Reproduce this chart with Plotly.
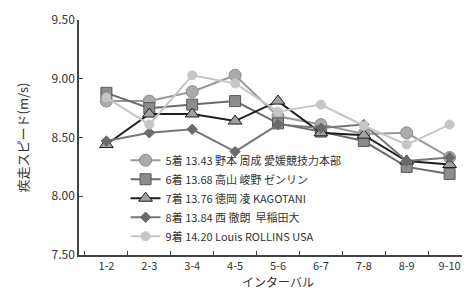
import plotly.graph_objects as go

categories = ["1-2", "2-3", "3-4", "4-5", "5-6", "6-7", "7-8", "8-9", "9-10"]

names = [
    "5着 13.43 野本 周成 愛媛競技力本部",
    "6着 13.68 高山 峻野 ゼンリン",
    "7着 13.76 徳岡 凌 KAGOTANI",
    "8着 13.84 西 徹朗  早稲田大",
    "9着 14.20 Louis ROLLINS USA",
]

s5 = [8.81, 8.81, 8.89, 9.03, 8.68, 8.61, 8.53, 8.54, 8.33]
s6 = [8.88, 8.75, 8.78, 8.81, 8.62, 8.55, 8.47, 8.25, 8.19]
s7 = [8.44, 8.70, 8.70, 8.64, 8.81, 8.54, 8.52, 8.30, 8.27]
s8 = [8.47, 8.54, 8.57, 8.38, 8.61, 8.58, 8.61, 8.30, 8.33]
s9 = [8.84, 8.61, 9.03, 8.96, 8.72, 8.78, 8.60, 8.44, 8.61]

y_ticks = [7.5, 8.0, 8.5, 9.0, 9.5]
y_tick_text = ["7.50", "8.00", "8.50", "9.00", "9.50"]

styles = [
    dict(line="#9a9a9a", fill="#ababab", edge="#8a8a8a", symbol="circle", size=12, width=2),
    dict(line="#6a6a6a", fill="#8c8c8c", edge="#5a5a5a", symbol="square", size=11, width=2),
    dict(line="#1e1e1e", fill="#a0a0a0", edge="#1e1e1e", symbol="triangle-up", size=12, width=2),
    dict(line="#777777", fill="#6a6a6a", edge="#6a6a6a", symbol="diamond", size=8, width=2),
    dict(line="#c6c6c6", fill="#c6c6c6", edge="#c6c6c6", symbol="circle", size=9, width=2),
]

series = [s5, s6, s7, s8, s9]

fig = go.Figure()
for name, vals, st in zip(names, series, styles):
    fig.add_trace(go.Scatter(
        x=categories, y=vals, name=name, mode="lines+markers",
        line=dict(color=st["line"], width=st["width"]),
        marker=dict(symbol=st["symbol"], size=st["size"], color=st["fill"],
                    line=dict(color=st["edge"], width=1)),
    ))

font_family = "Noto Sans CJK JP, Noto Sans, sans-serif"

fig.update_layout(
    width=470, height=296,
    margin=dict(l=71, r=1, t=12, b=49),
    paper_bgcolor="white", plot_bgcolor="white",
    font=dict(family=font_family, size=11, color="#333333"),
    showlegend=True,
    legend=dict(
        x=0.117, y=0.465, xanchor="left", yanchor="top",
        bgcolor="rgba(255,255,255,0)", font=dict(size=11, color="#333333"),
        itemwidth=30, tracegroupgap=0,
    ),
    xaxis=dict(
        type="category", showgrid=False, showline=True, linecolor="#444444", linewidth=1.5,
        ticks="inside", ticklen=4, tickcolor="#444444", tickson="boundaries",
        title=dict(text="インターバル", font=dict(size=12), standoff=4),
        tickfont=dict(size=11),
    ),
    yaxis=dict(
        range=[7.5, 9.5], tickvals=y_ticks, ticktext=y_tick_text,
        showgrid=False, showline=True, linecolor="#444444", linewidth=1.5,
        ticks="inside", ticklen=4, tickcolor="#444444", zeroline=False,
        title=dict(text="疾走スピード(m/s)", font=dict(size=13), standoff=20),
        tickfont=dict(size=12),
    ),
)

fig.write_html("out.html")
